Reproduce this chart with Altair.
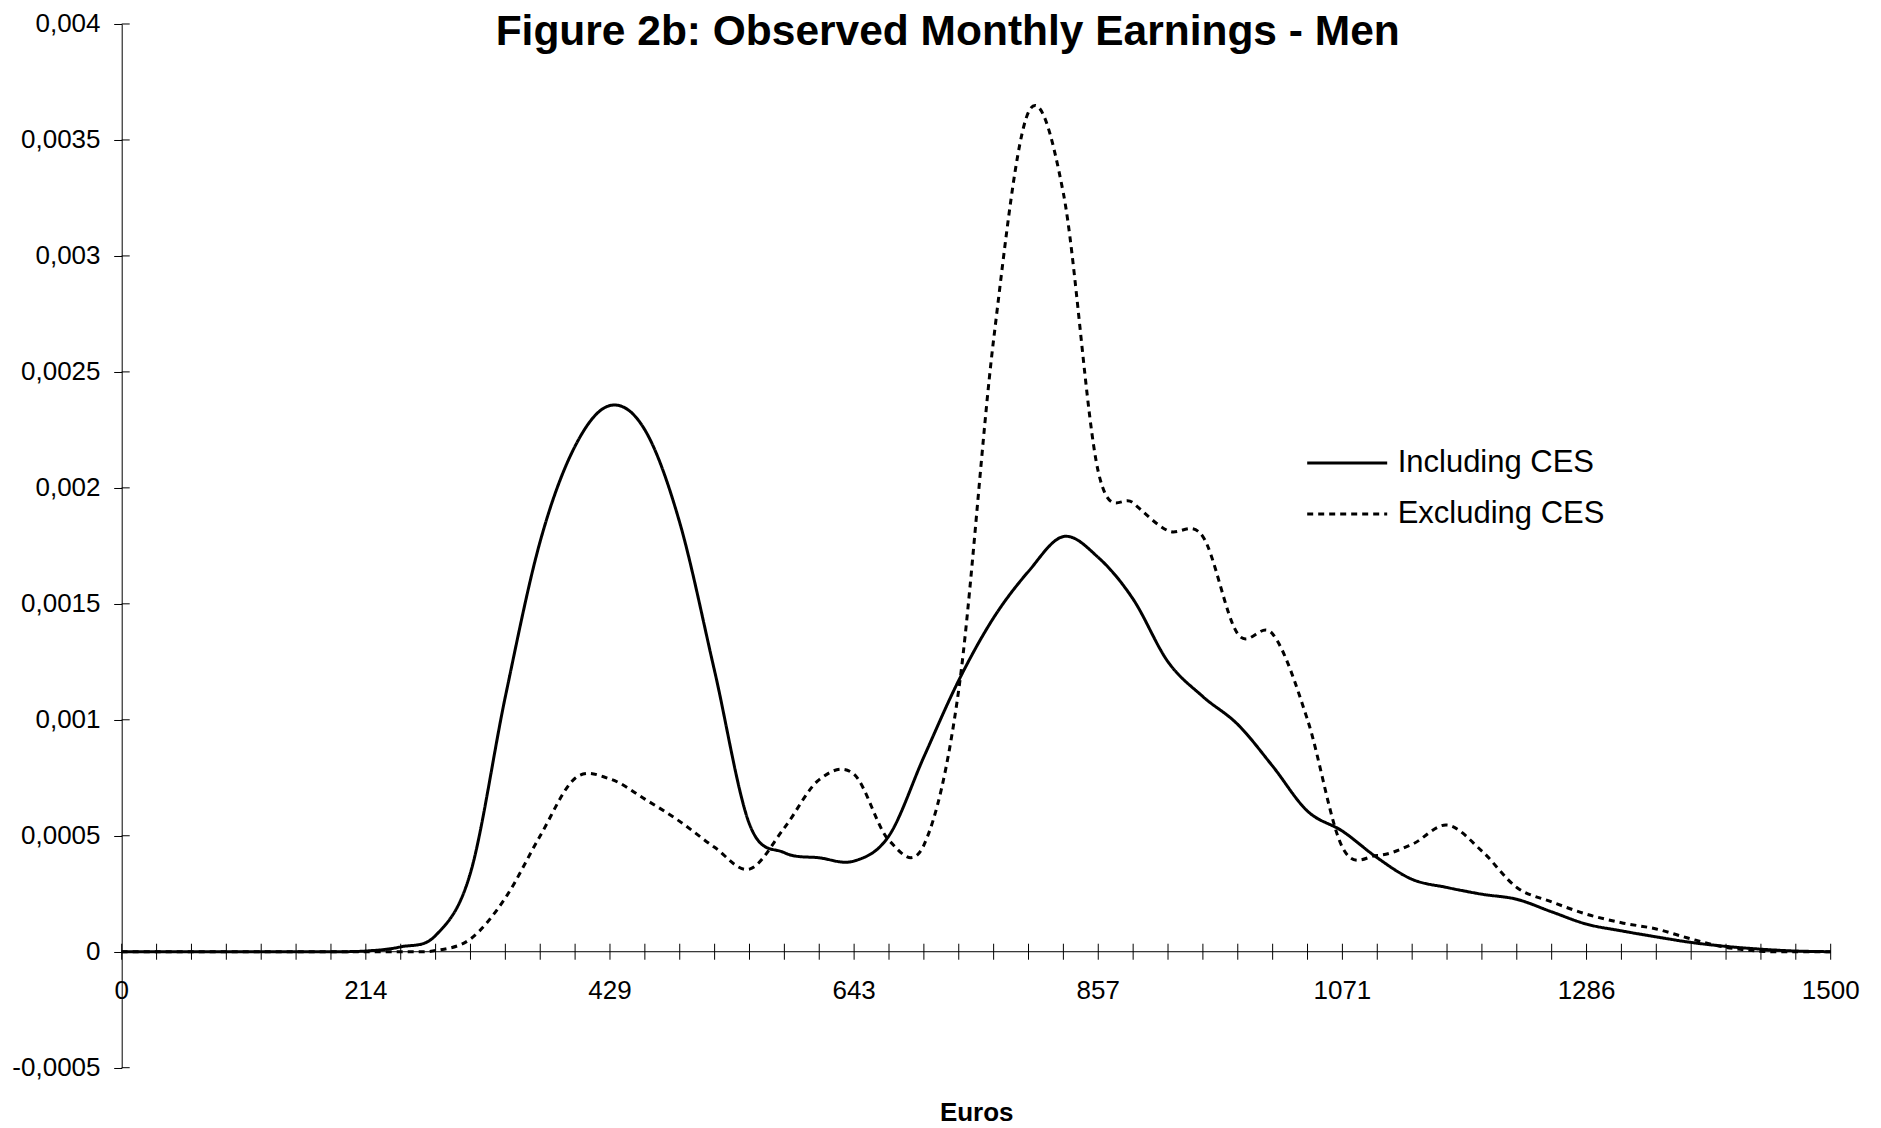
import altair as alt
import pandas as pd

# ---- data ----
n_points = 50
x_max = 1500
# 50 evenly spaced categories from 0 to 1500 euros
x_cats = [x_max * k / (n_points - 1) for k in range(n_points)]

including_ces = [
    0, 0, 0, 0, 0, 0, 0, 0.000003, 0.000021, 0.00007,
    0.00034, 0.0011, 0.00177, 0.00218, 0.002355, 0.00225, 0.00185, 0.00121, 0.00055, 0.000427,
    0.000405, 0.000391, 0.0005, 0.00084, 0.00117, 0.00144, 0.00164, 0.00179, 0.0017, 0.00152,
    0.00125, 0.0011, 0.00098, 0.0008, 0.000606, 0.00052, 0.000405, 0.000312, 0.000277, 0.000248,
    0.000226, 0.000172, 0.000119, 0.00009, 0.000064, 0.00004, 0.000023, 0.000011, 0.000003, 0,
]
excluding_ces = [
    0, 0, 0, 0, 0, 0, 0, 0, 0, 0.000005,
    0.000055, 0.000232, 0.0005, 0.000748, 0.000745, 0.000658, 0.000562, 0.00045, 0.000356, 0.000534,
    0.000742, 0.000765, 0.00048, 0.00046, 0.00113, 0.00264, 0.00362, 0.00327, 0.00207, 0.001935,
    0.001815, 0.00179, 0.00137, 0.00137, 0.001, 0.00045, 0.000415, 0.000463, 0.000546, 0.000434,
    0.000277, 0.000215, 0.000162, 0.000125, 0.000098, 0.000055, 0.000019, 0.000002, 0, 0,
]
series_names = ["Including CES", "Excluding CES"]

x_label_values = [x_cats[k] for k in range(0, n_points, 7)]
x_label_text = ["0", "214", "429", "643", "857", "1071", "1286", "1500"]
y_ticks = [-0.0005, 0, 0.0005, 0.001, 0.0015, 0.002, 0.0025, 0.003, 0.0035, 0.004]

title_text = "Figure 2b: Observed Monthly Earnings - Men"
x_title = "Euros"

FONT = "Liberation Sans"

# ---- tables ----
df = pd.concat([
    pd.DataFrame({"x": x_cats, "value": including_ces, "series": series_names[0]}),
    pd.DataFrame({"x": x_cats, "value": excluding_ces, "series": series_names[1]}),
])
df_xticks = pd.DataFrame({"x": x_cats})
df_xline = pd.DataFrame({"x0": [x_cats[0]], "x1": [x_cats[-1]]})
df_xlabels = pd.DataFrame({"x": x_label_values, "label": x_label_text})
df_yticks = pd.DataFrame({"y": y_ticks})
df_title = pd.DataFrame({"t": [title_text]})

x_scale = alt.Scale(domain=[0, x_max], nice=False, zero=False)
y_scale = alt.Scale(domain=[-0.0005, 0.004], nice=False, zero=False)

x_axis = alt.Axis(title=x_title, labels=False, ticks=False, domain=False, grid=False,
                  tickSize=0, titleFont=FONT, titleFontSize=26, titleFontWeight="bold",
                  titleColor="black", titlePadding=32)
y_axis = alt.Axis(title=None, values=y_ticks, grid=False,
                  labelExpr="replace(toString(datum.value), '.', ',')",
                  labelFont=FONT, labelFontSize=26, labelColor="black",
                  tickColor="black", tickSize=8, tickWidth=1,
                  domainColor="black", domainWidth=1, labelPadding=13.7)

lines = alt.Chart(df).mark_line(
    color="black", strokeWidth=3, interpolate="cardinal", tension=0
).encode(
    x=alt.X("x:Q", scale=x_scale, axis=x_axis),
    y=alt.Y("value:Q", scale=y_scale, axis=y_axis),
    strokeDash=alt.StrokeDash(
        "series:N",
        scale=alt.Scale(domain=series_names, range=[[1, 0], [6, 5]]),
        legend=alt.Legend(title=None, orient="none", legendX=1184, legendY=413.5,
                          symbolType="stroke", symbolSize=6400, symbolStrokeWidth=2.8,
                          symbolStrokeColor="black", labelFont=FONT, labelFontSize=31,
                          labelColor="black", labelOffset=9, clipHeight=51,
                          labelLimit=400, rowPadding=0, padding=0),
    ),
)

x_line = alt.Chart(df_xline).mark_rule(color="black", strokeWidth=1).encode(
    x=alt.X("x0:Q", scale=x_scale, axis=x_axis),
    x2="x1:Q",
    y=alt.YDatum(0, scale=y_scale, axis=y_axis),
)

x_ticks = alt.Chart(df_xticks).mark_rule(
    color="black", strokeWidth=1, yOffset=-8, y2Offset=8
).encode(
    x=alt.X("x:Q", scale=x_scale, axis=x_axis),
    y=alt.YDatum(0, scale=y_scale, axis=y_axis),
    y2=alt.datum(0),
)

y_ticks_in = alt.Chart(df_yticks).mark_rule(color="black", strokeWidth=1).encode(
    y=alt.Y("y:Q", scale=y_scale, axis=y_axis),
    x=alt.value(0),
    x2=alt.value(8),
)

x_labels = alt.Chart(df_xlabels).mark_text(
    font=FONT, fontSize=26, color="black", dy=39, align="center", baseline="middle"
).encode(
    x=alt.X("x:Q", scale=x_scale, axis=x_axis),
    y=alt.YDatum(0, scale=y_scale, axis=y_axis),
    text="label:N",
)

title_mark = alt.Chart(df_title).mark_text(
    font=FONT, fontSize=42.5, fontWeight="bold", color="black",
    align="center", baseline="middle"
).encode(
    x=alt.value(826),
    y=alt.value(8.4),
    text="t:N",
)

chart = alt.layer(lines, x_line, x_ticks, y_ticks_in, x_labels, title_mark).properties(
    width=1709,
    height=1043.7,
    autosize=alt.AutoSizeParams(type="none"),
    padding={"left": 113.7, "top": 16, "right": 40, "bottom": 64},
    background="white",
).configure_view(stroke=None)

chart.save("out.html", embed_options={"renderer": "svg", "actions": False})
